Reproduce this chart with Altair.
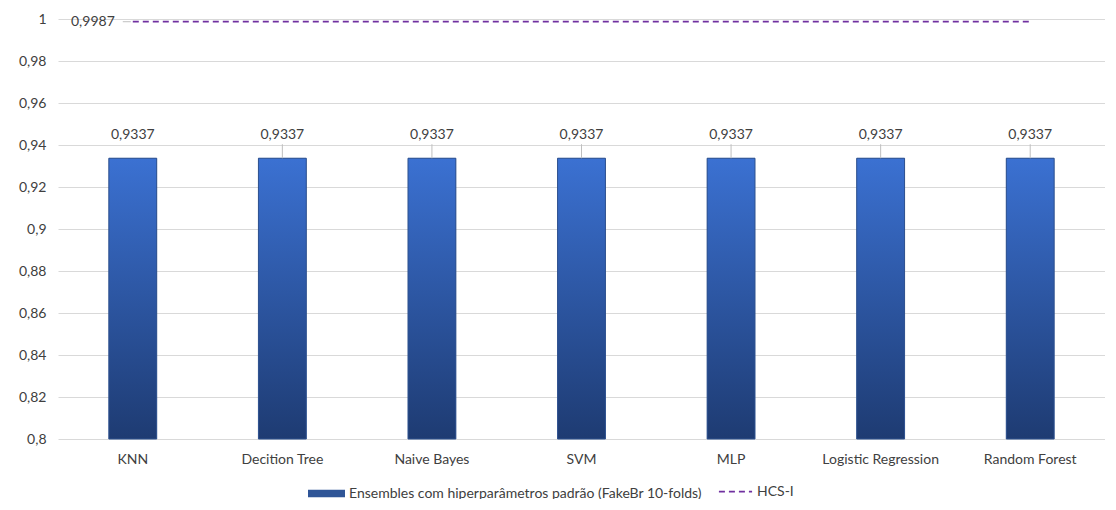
import altair as alt
import pandas as pd

categories = ["KNN", "Decition Tree", "Naive Bayes", "SVM", "MLP",
              "Logistic Regression", "Random Forest"]
ensemble_values = [0.9337, 0.9337, 0.9337, 0.9337, 0.9337, 0.9337, 0.9337]
hcs_values = [0.9987, 0.9987, 0.9987, 0.9987, 0.9987, 0.9987, 0.9987]
y_ticks = [0.8, 0.82, 0.84, 0.86, 0.88, 0.9, 0.92, 0.94, 0.96, 0.98, 1]
leader_categories = ["Decition Tree", "Naive Bayes", "SVM", "MLP",
                     "Logistic Regression", "Random Forest"]
bar_series = "Ensembles  com hiperparâmetros padrão (FakeBr 10-folds)"
line_series = "HCS-I"
axis_min = 0.8

df = pd.DataFrame({
    "category": categories,
    "ensemble": ensemble_values,
    "hcs": hcs_values,
    "bar_series": [bar_series] * len(categories),
    "line_series": [line_series] * len(categories),
    "base": [axis_min] * len(categories),
    "ens_label": [str(v).replace(".", ",") for v in ensemble_values],
    "hcs_label": [str(v).replace(".", ",") for v in hcs_values],
})

FONT = "Lato"
TXT = "#404040"
FS = 14

x = alt.X("category:N", sort=categories,
          scale=alt.Scale(paddingInner=0.68, paddingOuter=0.34),
          axis=alt.Axis(title=None, labelAngle=0, domain=False, ticks=False,
                        labelPadding=13, labelFontSize=FS, labelColor=TXT,
                        labelFont=FONT, grid=False))
yscale = alt.Scale(domain=[0.8, 1], zero=False, nice=False)
y = alt.Y("ensemble:Q", scale=yscale,
          axis=alt.Axis(values=y_ticks, title=None, domain=False, ticks=False,
                        labelExpr="replace(toString(datum.value), '.', ',')",
                        gridColor="#d9d9d9", labelPadding=12, labelFontSize=FS,
                        labelColor=TXT, labelFont=FONT))

base = alt.Chart(df)

legend_bar = base.mark_bar().encode(
    x=x, y=y, y2="base:Q",
    color=alt.Color("bar_series:N", scale=alt.Scale(range=["#2f5597"]),
                    legend=alt.Legend(title=None, orient="none", legendX=250,
                                      legendY=456, labelLimit=600,
                                      symbolType="M-1,-0.2H1V0.2H-1Z",
                                      symbolSize=1369, symbolStrokeWidth=0,
                                      labelFont=FONT, labelFontSize=FS,
                                      labelColor=TXT))
)

grad = alt.Gradient(gradient="linear",
                    stops=[alt.GradientStop(color="#3b71d2", offset=0),
                           alt.GradientStop(color="#1e3b72", offset=1)],
                    x1=0, x2=0, y1=0, y2=1)
bars = base.mark_bar(fill=grad, stroke="#2f528f", strokeWidth=1).encode(
    x=x, y=y, y2="base:Q")

leaders = base.transform_filter(
    alt.FieldOneOfPredicate(field="category", oneOf=leader_categories)
).mark_rule(color="#bfbfbf", y2Offset=-14).encode(
    x=x, y=y, y2="ensemble:Q")

bar_labels = base.mark_text(dy=-16, baseline="bottom", font=FONT, fontSize=FS,
                            color=TXT).encode(x=x, y=y, text="ens_label:N")

line = base.mark_line(color="#7030a0", strokeWidth=1.75).encode(
    x=x, y=alt.Y("hcs:Q", scale=yscale),
    strokeDash=alt.StrokeDash("line_series:N", scale=alt.Scale(range=[[6, 4]]),
                              legend=alt.Legend(title=None, orient="none",
                                                legendX=660, legendY=455,
                                                labelLimit=200,
                                                symbolType="stroke",
                                                symbolStrokeColor="#7030a0",
                                                symbolSize=1100,
                                                symbolStrokeWidth=1.75,
                                                labelFont=FONT, labelFontSize=FS,
                                                labelColor=TXT))
)

first = base.transform_filter(alt.datum.category == categories[0])
hcs_leader = first.mark_rule(color="#bfbfbf", xOffset=-10, x2Offset=-2).encode(
    x=x, x2="category:N", y=alt.Y("hcs:Q", scale=yscale))
hcs_label = first.mark_text(align="right", baseline="middle", dx=-18,
                            font=FONT, fontSize=FS, color=TXT).encode(
    x=x, y=alt.Y("hcs:Q", scale=yscale), text="hcs_label:N")

chart = alt.layer(legend_bar, bars, leaders, bar_labels, line, hcs_leader,
                  hcs_label).properties(
    width=1047, height=420,
    autosize=alt.AutoSizeParams(type="none"),
    padding={"left": 50, "top": 11, "right": 0, "bottom": 60},
    background="white",
).configure_view(stroke=None)

chart.save("out.html", embed_options={"renderer": "svg", "actions": False})
